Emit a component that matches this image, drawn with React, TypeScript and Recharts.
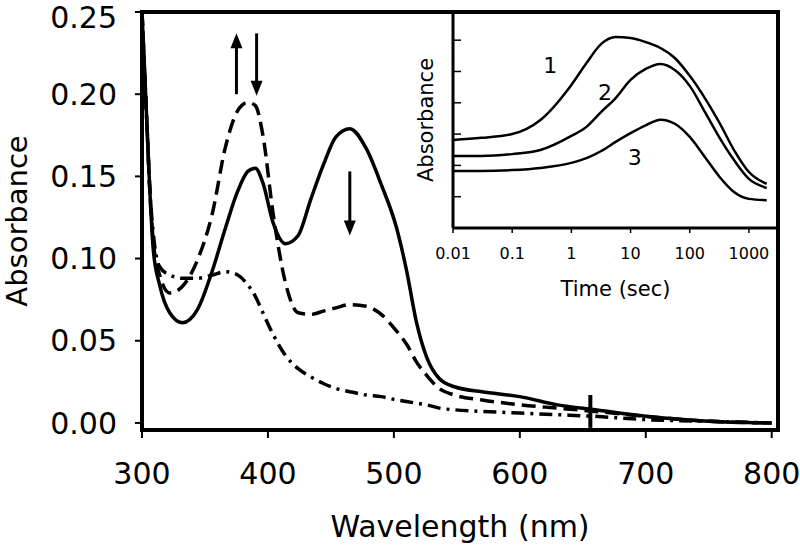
import {
  LineChart, Line, XAxis, YAxis, ReferenceLine, ReferenceArea, ReferenceDot,
} from "recharts";

const FONT = "'DejaVu Sans', sans-serif";

// main panel: absorption spectra
const wavelengths = [300, 302, 304, 306, 309, 314, 322, 332, 344, 356, 366, 376, 384, 390, 396, 404, 414, 424, 434, 444, 454, 465, 478, 490, 502, 510, 518, 526, 536, 548, 570, 600, 630, 660, 700, 750, 800];
const solidAbs = [0.25, 0.215, 0.18, 0.145, 0.105, 0.084, 0.067, 0.061, 0.069, 0.093, 0.118, 0.141, 0.153, 0.155, 0.146, 0.122, 0.109, 0.114, 0.136, 0.157, 0.174, 0.179, 0.167, 0.145, 0.119, 0.093, 0.061, 0.04, 0.027, 0.022, 0.019, 0.016, 0.011, 0.008, 0.004, 0.001, 0.0];
const dashedAbs = [0.25, 0.215, 0.18, 0.145, 0.11, 0.09, 0.079, 0.083, 0.099, 0.128, 0.167, 0.19, 0.195, 0.193, 0.175, 0.128, 0.085, 0.067, 0.066, 0.068, 0.07, 0.072, 0.071, 0.066, 0.056, 0.048, 0.037, 0.029, 0.021, 0.017, 0.014, 0.011, 0.009, 0.007, 0.004, 0.001, 0.0];
const dashDotAbs = [0.25, 0.215, 0.18, 0.145, 0.115, 0.095, 0.09, 0.088, 0.088, 0.09, 0.092, 0.09, 0.084, 0.077, 0.067, 0.054, 0.041, 0.033, 0.028, 0.024, 0.021, 0.019, 0.017, 0.016, 0.014, 0.013, 0.012, 0.011, 0.009, 0.008, 0.007, 0.006, 0.005, 0.004, 0.002, 0.001, 0.0];
const wlTicks = [300, 400, 500, 600, 700, 800];
const absTicks = [0, 0.05, 0.1, 0.15, 0.2, 0.25];

// arrows drawn on the spectra (wavelength, from, to)
const arrows = [
  { wl: 375, from: 0.2, to: 0.237 },
  { wl: 391, from: 0.237, to: 0.199 },
  { wl: 465, from: 0.153, to: 0.114 },
];

// inset: kinetic traces (arbitrary absorbance units)
const times = [0.01, 0.03, 0.1, 0.3, 1, 1.8, 3.2, 5.6, 10, 18, 32, 56, 100, 180, 320, 560, 1000, 2000];
const trace1 = [0.281, 0.288, 0.3, 0.345, 0.457, 0.527, 0.588, 0.61, 0.607, 0.594, 0.575, 0.543, 0.486, 0.415, 0.335, 0.249, 0.179, 0.141];
const trace2 = [0.23, 0.23, 0.236, 0.249, 0.294, 0.323, 0.371, 0.415, 0.473, 0.508, 0.524, 0.505, 0.454, 0.371, 0.288, 0.217, 0.157, 0.128];
const trace3 = [0.182, 0.182, 0.185, 0.192, 0.208, 0.223, 0.246, 0.275, 0.303, 0.328, 0.346, 0.333, 0.291, 0.227, 0.163, 0.115, 0.093, 0.089];
const timeTicks = [0.01, 0.1, 1, 10, 100, 1000];
const insetTicks = [0.1, 0.2, 0.3, 0.4, 0.5, 0.6];
const traceLabels = [
  { t: 0.44, v: 0.52, text: "1" },
  { t: 3.7, v: 0.435, text: "2" },
  { t: 11.8, v: 0.227, text: "3" },
];

const spectra = wavelengths.map((wl, i) => ({
  wl, solid: solidAbs[i], dashed: dashedAbs[i], dashDot: dashDotAbs[i],
}));
const kinetics = times.map((t, i) => ({ t, k1: trace1[i], k2: trace2[i], k3: trace3[i] }));

const Arrow = (p: any) => {
  const { x1, y1, x2, y2 } = p;
  const dir = y2 > y1 ? 1 : -1;
  const hl = 15, hw = 6;
  return (
    <g>
      <line x1={x1} y1={y1} x2={x2} y2={y2 - dir * hl * 0.7} stroke="#000" strokeWidth={3} />
      <polygon points={`${x2 - hw},${y2 - dir * hl} ${x2},${y2} ${x2 + hw},${y2 - dir * hl}`} fill="#000" />
    </g>
  );
};

export default function App() {
  return (
    <div style={{ position: "absolute", left: 0, top: 0, width: 800, height: 545, background: "#fff", fontFamily: FONT }}>
      <div style={{ position: "absolute", left: 0, top: 0 }}>
        <LineChart width={800} height={545} data={spectra} margin={{ top: 12, right: 22, bottom: 0, left: 0 }}>
          <XAxis
            dataKey="wl" type="number" domain={[300, 805]} ticks={wlTicks} height={115}
            tick={{ fontSize: 30, fill: "#000", fontFamily: FONT }}
            tickSize={8} tickMargin={25}
            axisLine={{ stroke: "#000", strokeWidth: 4 }} tickLine={{ stroke: "#000", strokeWidth: 2 }}
            label={{ value: "Wavelength (nm)", position: "insideBottom", offset: 8, fontSize: 30, fill: "#000", fontFamily: FONT }}
          />
          <YAxis
            type="number" domain={[-0.0043, 0.25]} ticks={absTicks} width={142}
            tickFormatter={(v: number) => v.toFixed(2)}
            tick={{ fontSize: 30, fill: "#000", fontFamily: FONT }}
            tickSize={7} tickMargin={18}
            axisLine={{ stroke: "#000", strokeWidth: 4 }} tickLine={{ stroke: "#000", strokeWidth: 2 }}
            label={{ value: "Absorbance", angle: -90, position: "insideLeft", offset: 17, textAnchor: "middle", fontSize: 29, fill: "#000", fontFamily: FONT }}
          />
          <ReferenceArea x1={300} x2={805} y1={-0.0043} y2={0.25} fill="none" stroke="#000" strokeWidth={4} ifOverflow="visible" />
          <Line type="monotone" dataKey="solid" stroke="#000" strokeWidth={3.5} dot={false} isAnimationActive={false} />
          <Line type="monotone" dataKey="dashed" stroke="#000" strokeWidth={3.5} strokeDasharray="14 7" dot={false} isAnimationActive={false} />
          <Line type="monotone" dataKey="dashDot" stroke="#000" strokeWidth={3.5} strokeDasharray="13 6 3 6" dot={false} isAnimationActive={false} />
          <ReferenceLine segment={[{ x: 656, y: 0.017 }, { x: 656, y: -0.003 }]} stroke="#000" strokeWidth={4} />
          {arrows.map((a) => (
            <ReferenceLine key={a.wl} segment={[{ x: a.wl, y: a.from }, { x: a.wl, y: a.to }]} shape={Arrow} />
          ))}
        </LineChart>
      </div>
      <div style={{ position: "absolute", left: 405, top: 0 }}>
        <LineChart width={395} height={300} data={kinetics} margin={{ top: 12, right: 22, bottom: 0, left: 48 }}>
          <XAxis
            dataKey="t" type="number" scale="log" domain={[0.01, 3100]} allowDataOverflow ticks={timeTicks} height={72}
            tickFormatter={(v: number) => String(v)}
            tick={{ fontSize: 16, fill: "#000", fontFamily: FONT }}
            tickSize={5} tickMargin={15}
            axisLine={{ stroke: "#000", strokeWidth: 3 }} tickLine={{ stroke: "#000", strokeWidth: 1.5 }}
            label={{ value: "Time (sec)", position: "insideBottom", offset: 4, fontSize: 21, fill: "#000", fontFamily: FONT }}
          />
          <YAxis
            yAxisId="l" type="number" domain={[0, 0.69]} ticks={insetTicks} mirror width={48}
            tickFormatter={() => ""} tickSize={8}
            axisLine={{ stroke: "#000", strokeWidth: 3 }} tickLine={{ stroke: "#000", strokeWidth: 1.5 }}
            label={{ value: "Absorbance", angle: -90, position: "left", offset: 27, textAnchor: "middle", fontSize: 21, fill: "#000", fontFamily: FONT }}
          />
          <YAxis
            yAxisId="r" orientation="right" type="number" domain={[0, 0.69]} ticks={insetTicks} mirror width={0}
            tickFormatter={() => ""} tickSize={8}
            axisLine={{ stroke: "#000", strokeWidth: 3 }} tickLine={{ stroke: "#000", strokeWidth: 1.5 }}
          />
          <Line yAxisId="l" type="monotone" dataKey="k1" stroke="#000" strokeWidth={2.5} dot={false} isAnimationActive={false} />
          <Line yAxisId="l" type="monotone" dataKey="k2" stroke="#000" strokeWidth={2.5} dot={false} isAnimationActive={false} />
          <Line yAxisId="l" type="monotone" dataKey="k3" stroke="#000" strokeWidth={2.5} dot={false} isAnimationActive={false} />
          {traceLabels.map((l) => (
            <ReferenceDot
              key={l.text} yAxisId="l" x={l.t} y={l.v} r={0} stroke="none" fill="none"
              label={{ value: l.text, position: "center", fontSize: 22, fill: "#000", fontFamily: FONT }}
            />
          ))}
        </LineChart>
      </div>
    </div>
  );
}
